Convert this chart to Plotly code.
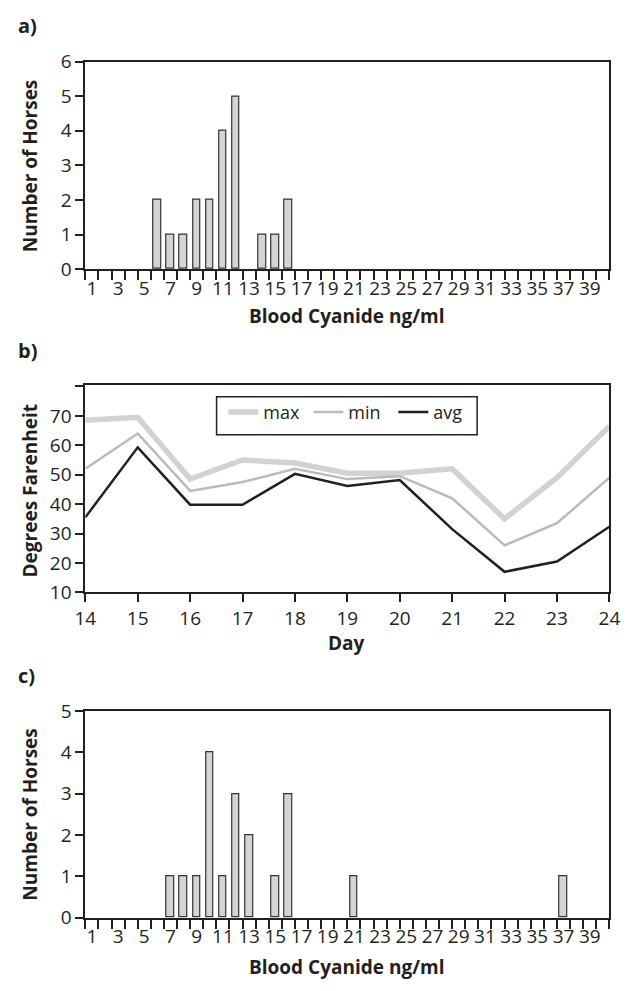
import plotly.graph_objects as go

# ---- data ----
cyanide_bins = list(range(1, 41))
horses_a_bins = [6, 7, 8, 9, 10, 11, 12, 14, 15, 16]
horses_a_vals = [2, 1, 1, 2, 2, 4, 5, 1, 1, 2]
horses_c_bins = [7, 8, 9, 10, 11, 12, 13, 15, 16, 21, 37]
horses_c_vals = [1, 1, 1, 4, 1, 3, 2, 1, 3, 1, 1]
x_labels = [str(v) if v % 2 == 1 else "" for v in cyanide_bins]

days = [14, 15, 16, 17, 18, 19, 20, 21, 22, 23, 24]
temp_max = [68.5, 69.5, 48.5, 55, 54, 50.5, 50.5, 52, 35, 49, 66.5]
temp_min = [52, 64, 44.5, 47.5, 52, 48.5, 49.5, 42, 26, 33.5, 49]
temp_avg = [35.5, 59.3, 39.8, 39.8, 50.3, 46.2, 48.2, 31.5, 17, 20.5, 32.3]

W, H = 631, 991
FONT = "Open Sans"
DARK = "#231f20"

def ydom(top, bottom):
    return [1 - bottom / H, 1 - top / H]

xdom = [77 / W, 620 / W]

fig = go.Figure()

bar_style = dict(marker=dict(color="#d4d4d4", line=dict(color="#333333", width=1.2)),
                 width=0.58, showlegend=False, hoverinfo="x+y")
fig.add_trace(go.Bar(x=horses_a_bins, y=horses_a_vals, xaxis="x", yaxis="y", **bar_style))

fig.add_trace(go.Scatter(x=days, y=temp_max, name="max", mode="lines",
                         line=dict(color="#d2d2d2", width=5.5), xaxis="x2", yaxis="y2"))
fig.add_trace(go.Scatter(x=days, y=temp_min, name="min", mode="lines",
                         line=dict(color="#bababa", width=2.5), xaxis="x2", yaxis="y2"))
fig.add_trace(go.Scatter(x=days, y=temp_avg, name="avg", mode="lines",
                         line=dict(color=DARK, width=2.5), xaxis="x2", yaxis="y2"))

fig.add_trace(go.Bar(x=horses_c_bins, y=horses_c_vals, xaxis="x3", yaxis="y3", **bar_style))

tickfont = dict(family=FONT, size=19, color=DARK)
axis_common = dict(showline=True, linecolor=DARK, linewidth=2, mirror=True,
                   showgrid=False, zeroline=False, tickfont=tickfont,
                   tickcolor=DARK, tickwidth=1.5)

cat_x = dict(axis_common, domain=xdom, range=[0.5, 40.5], tickmode="array",
             tickvals=cyanide_bins, ticktext=x_labels, ticks="outside", ticklen=0,
             minor=dict(tickmode="linear", tick0=0.5, dtick=1, ticks="outside",
                        ticklen=9, tickcolor=DARK, tickwidth=1.5),
             ticklabelstandoff=1)

fig.update_layout(
    width=W, height=H, margin=dict(l=0, r=0, t=0, b=0),
    paper_bgcolor="white", plot_bgcolor="white",
    font=dict(family=FONT, color=DARK),
    bargap=0,
    xaxis=dict(cat_x, anchor="y"),
    yaxis=dict(axis_common, domain=ydom(50, 263), range=[0, 6], dtick=1,
               ticks="outside", ticklen=8, anchor="x"),
    xaxis2=dict(axis_common, domain=xdom, range=[14, 24], dtick=1,
                ticks="outside", ticklen=8, anchor="y2"),
    yaxis2=dict(axis_common, domain=ydom(382, 595), range=[10, 80.5],
                tickmode="array", tickvals=[10, 20, 30, 40, 50, 60, 70, 80],
                ticktext=["10", "20", "30", "40", "50", "60", "70", ""],
                ticks="outside", ticklen=8, anchor="x2"),
    xaxis3=dict(cat_x, anchor="y3"),
    yaxis3=dict(axis_common, domain=ydom(717, 929), range=[0, 5], dtick=1,
                ticks="outside", ticklen=8, anchor="x3"),
    legend=dict(orientation="h", x=220 / W, y=1 - 391 / H, xanchor="left", yanchor="top",
                borderwidth=0, bgcolor="rgba(0,0,0,0)",
                font=dict(family=FONT, size=18, color=DARK), itemwidth=30,
                entrywidth=40, entrywidthmode="pixels", tracegroupgap=0),
    shapes=[dict(type="rect", xref="paper", yref="paper",
                 x0=213 / W, x1=483 / W, y0=1 - 433 / H, y1=1 - 394 / H,
                 line=dict(color=DARK, width=1.5), fillcolor="rgba(0,0,0,0)", layer="above")],
)

ann = []
def label(text, x, y, size=19, angle=0, xanchor="center"):
    ann.append(dict(text=text, x=x / W, y=1 - y / H, xref="paper", yref="paper",
                    showarrow=False, textangle=angle, xanchor=xanchor, yanchor="middle",
                    font=dict(family=FONT, size=size, color=DARK, weight="bold")))

label("a)", 5, 13, size=20, xanchor="left")
label("b)", 5, 347, size=20, xanchor="left")
label("c)", 5, 680, size=20, xanchor="left")
label("Number of Horses", 20, 157, angle=-90)
label("Degrees Farenheit", 20, 490, angle=-90)
label("Number of Horses", 20, 823, angle=-90)
label("Blood Cyanide ng/ml", 348, 311)
label("Day", 348, 647)
label("Blood Cyanide ng/ml", 348, 980)
fig.update_layout(annotations=ann)

fig.write_html("out.html")
